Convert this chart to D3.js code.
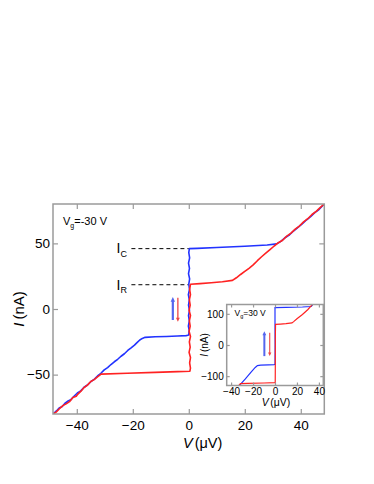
<!DOCTYPE html>
<html>
<head>
<meta charset="utf-8">
<script src="https://cdn.jsdelivr.net/npm/d3@7"></script>
<style>
  body { margin: 0; background: #fff; }
  svg { font-family: "Liberation Sans", Arial, sans-serif; }
</style>
</head>
<body>
<div class="canvas"></div>
<script>
// Data: [V (µV), I (nA)]
const blueSweep = [
  [-48.5,-80],[-47.2,-77.5],[-46.3,-75.4],[-45.2,-74.3],[-44.3,-72],[-43.1,-70.1],[-42.2,-69.2],[-41,-66.5],
  [-39.8,-64],[-38.6,-62.4],[-37.4,-59.6],[-36.2,-57.9],[-35,-55.4],[-33.8,-53.6],[-32.6,-51],[-31.4,-49],
  [-30.2,-46.4],[-29,-44.6],[-27.8,-42.3],[-26.6,-40.2],[-25.4,-38.3],[-24.2,-36],[-23,-34.1],[-21.8,-31.6],
  [-20.6,-29.6],[-19.4,-27.5],[-18.4,-25.4],[-17.5,-23.6],[-16.6,-22.4],[-15.6,-21.6],[-12,-21.2],[-8,-20.9],
  [-4,-20.6],[-1,-20.3],[-0.3,-20],[0,-19.5],[0.15,-16],[-0.15,-13],[0.2,-9],[-0.1,-5],[0.25,-1],[-0.1,3],
  [0.2,7],[-0.15,11],[0.25,15],[0,19],[0.3,23],[-0.1,27],[0.25,31],[-0.1,35],[0.3,39],[0,43],[0.2,46],
  [3,46.2],[10,46.8],[20,47.8],[28,48.8],[31.4,49.6],[33,51.7],[34.5,54.5],[36,56.6],[37.5,59.6],[39,62.2],
  [40.5,64.8],[42,67.8],[43.5,70.3],[45,73.4],[46.5,75.8],[48.4,80]
];
const redSweep = [
  [48.4,80],[46.8,77],[45.5,74.4],[44,72],[42.5,68.8],[41,66.4],[39.5,63.2],[38,60.8],[36.5,57.8],[35,55.5],
  [33.5,52.4],[32,50.5],[30.5,48],[29,45.3],[27.5,42.6],[26,39.8],[24.5,36.8],[23,33.6],[21.5,31],[20,28.6],
  [18.5,26.3],[17,23.8],[15.6,21.8],[12,20.8],[8,20],[4,19.3],[0.6,18.8],[0.3,15],[0.6,11],[0.2,7],[0.5,3],
  [0.1,-1],[0.6,-5],[0.2,-9],[0.5,-13],[0.1,-17],[0.6,-21],[0.2,-25],[0.5,-29],[0.1,-33],[0.6,-37],[0.3,-41],
  [0.6,-45],[0.4,-47.4],[-4,-47.7],[-12,-48.3],[-22,-49],[-31.3,-49.6],[-32.5,-51.5],[-33.8,-53.8],[-35,-55.2],
  [-36.2,-58],[-37.4,-59.8],[-38.6,-62.8],[-39.6,-64.8],[-40.2,-66.5],[-41.4,-67.5],[-42.6,-70.6],[-43.8,-72.3],
  [-45,-73.6],[-46.2,-76],[-47.4,-78.6],[-48.5,-80]
];
const insetBlueSweep = [
  [-33,-132],[-27,-109],[-22,-88],[-18,-72],[-16,-66],[-13,-64.5],[-6,-63.5],[-0.8,-63],[0,-62],
  [0.1,0],[0,60],[0,120],[10,121],[25,122],[33,123.5],[35,132]
];
const insetRedSweep = [
  [34.5,132],[30,114],[25,98],[20,84],[17,75],[15.5,71],[10,68.5],[5,67],[0.5,66],[0.3,20],[0.3,-60],
  [0.2,-121],[-10,-122],[-25,-123],[-31.5,-124],[-33.5,-132]
];
const xTicks = [-40, -20, 0, 20, 40];
const yTicks = [-50, 0, 50];
const insetXTicks = [-40, -20, 0, 20, 40];
const insetYTicks = [-100, 0, 100];
const levelIC = 46;
const levelIR = 18.5;

const width = 374, height = 484;
const blue = '#2233ff', red = '#ff2222', frameCol = '#9a9a9a';

const svg = d3.select('.canvas').append('svg')
    .attr('width', width)
    .attr('height', height);
svg.append('rect').attr('width', width).attr('height', height).attr('fill', '#fff');

// main plot area
const box = { left: 53, top: 204, right: 324.3, bottom: 414 };
const x = d3.scaleLinear().domain([-48.5, 48.4]).range([box.left, box.right]);
const y = d3.scaleLinear().domain([-80, 80]).range([box.bottom, box.top]);

function drawAxes(g, xs, ys, b, xt, yt, opt) {
    const tick = opt.tick;
    g.append('g').attr('transform', `translate(0,${b.bottom})`)
        .call(d3.axisBottom(xs).tickValues(xt).tickSize(-tick).tickPadding(opt.padX).tickFormat(d3.format('d')));
    g.append('g').attr('transform', `translate(0,${b.top})`)
        .call(d3.axisTop(xs).tickValues(xt).tickSize(-tick).tickFormat(''));
    g.append('g').attr('transform', `translate(${b.left},0)`)
        .call(d3.axisLeft(ys).tickValues(yt).tickSize(-tick).tickPadding(opt.padY).tickFormat(d3.format('d')));
    g.append('g').attr('transform', `translate(${b.right},0)`)
        .call(d3.axisRight(ys).tickValues(yt).tickSize(-tick).tickFormat(''));
    g.selectAll('.domain').remove();
    g.selectAll('.tick line').attr('stroke', frameCol).attr('stroke-width', 1.2);
    g.selectAll('.tick text').attr('fill', '#000').style('font-size', opt.font + 'px')
        .style('font-family', '"Liberation Sans", Arial, sans-serif');
    g.append('rect')
        .attr('x', b.left).attr('y', b.top)
        .attr('width', b.right - b.left).attr('height', b.bottom - b.top)
        .attr('fill', 'none').attr('stroke', frameCol).attr('stroke-width', 1.5);
}

const main = svg.append('g');
svg.append('clipPath').attr('id', 'clipMain').append('rect')
    .attr('x', box.left).attr('y', box.top)
    .attr('width', box.right - box.left).attr('height', box.bottom - box.top);

const line = d3.line().x(d => x(d[0])).y(d => y(d[1]));

// dashed guides for I_C and I_R
[levelIC, levelIR].forEach(v => {
    main.append('line')
        .attr('x1', x(-20.5)).attr('x2', x(0))
        .attr('y1', y(v)).attr('y2', y(v))
        .attr('stroke', '#000').attr('stroke-width', 1)
        .attr('stroke-dasharray', '4,3');
});

const curves = main.append('g').attr('clip-path', 'url(#clipMain)');
curves.append('path').attr('d', line(blueSweep))
    .attr('fill', 'none').attr('stroke', blue).attr('stroke-width', 1.6).attr('stroke-linejoin', 'round');
curves.append('path').attr('d', line(redSweep))
    .attr('fill', 'none').attr('stroke', red).attr('stroke-width', 1.6).attr('stroke-linejoin', 'round');

drawAxes(main, x, y, box, xTicks, yTicks, { tick: 5, padX: 6, padY: 3, font: 13.5 });

// sweep arrows
function arrow(g, xs, ys, xv, from, to, col, w, head) {
    const x0 = xs(xv), y0 = ys(from), y1 = ys(to);
    const dir = y1 < y0 ? -1 : 1;
    g.append('line').attr('x1', x0).attr('x2', x0)
        .attr('y1', y0).attr('y2', y1 - dir * head)
        .attr('stroke', col).attr('stroke-width', w);
    g.append('path')
        .attr('d', `M${x0},${y1}L${x0 - head * 0.55},${y1 - dir * head * 1.2}L${x0 + head * 0.55},${y1 - dir * head * 1.2}Z`)
        .attr('fill', col);
}
arrow(main, x, y, -5.7, -8.4, 9.2, '#5566ee', 2.2, 4);
arrow(main, x, y, -3.9, 8.6, -9.8, '#ee4444', 1.3, 3.5);

// labels
const vg = main.append('text').attr('x', 63).attr('y', 225).style('font-size', '11px');
vg.append('tspan').text('V');
vg.append('tspan').attr('dy', 3).style('font-size', '7px').text('g');
vg.append('tspan').attr('dy', -3).text('=-30 V');

[[levelIC, 'C', 253.3], [levelIR, 'R', 289.5]].forEach(([v, s, by]) => {
    const t = main.append('text').attr('x', 116.5).attr('y', by).style('font-size', '14px');
    t.append('tspan').text('I');
    t.append('tspan').attr('dy', 3.5).style('font-size', '9px').text(s);
});

const xl = main.append('text').attr('x', 183).attr('y', 447.5).style('font-size', '14.5px');
xl.append('tspan').style('font-style', 'italic').text('V');
xl.append('tspan').attr('dx', 2).text('(μV)');

const yl = main.append('text').attr('transform', 'translate(24,309) rotate(-90)')
    .attr('text-anchor', 'middle').style('font-size', '15px');
yl.append('tspan').style('font-style', 'italic').text('I');
yl.append('tspan').attr('dx', 3).text('(nA)');

// inset
const ib = { left: 226.7, top: 304.5, right: 323.3, bottom: 385.5 };
const ix = d3.scaleLinear().domain([-44, 44]).range([ib.left, ib.right]);
const iy = d3.scaleLinear().domain([-130, 130]).range([ib.bottom, ib.top]);
const inset = svg.append('g');
inset.append('rect')
    .attr('x', ib.left).attr('y', ib.top)
    .attr('width', ib.right - ib.left).attr('height', ib.bottom - ib.top)
    .attr('fill', '#fff');
svg.append('clipPath').attr('id', 'clipInset').append('rect')
    .attr('x', ib.left).attr('y', ib.top)
    .attr('width', ib.right - ib.left).attr('height', ib.bottom - ib.top);

const iline = d3.line().x(d => ix(d[0])).y(d => iy(d[1]));
const icurves = inset.append('g').attr('clip-path', 'url(#clipInset)');
icurves.append('path').attr('d', iline(insetBlueSweep))
    .attr('fill', 'none').attr('stroke', blue).attr('stroke-width', 1.2);
icurves.append('path').attr('d', iline(insetRedSweep))
    .attr('fill', 'none').attr('stroke', red).attr('stroke-width', 1.2);

drawAxes(inset, ix, iy, ib, insetXTicks, insetYTicks, { tick: 3, padX: 2, padY: 3, font: 10 });

arrow(inset, ix, iy, -9.7, -35.7, 44.5, '#5566ee', 2, 3.5);
arrow(inset, ix, iy, -4.8, 39, -35.7, '#ee4444', 1.1, 3);

const ivg = inset.append('text').attr('x', 234.5).attr('y', 315.5).style('font-size', '8.5px');
ivg.append('tspan').text('V');
ivg.append('tspan').attr('dy', 2.5).style('font-size', '5.5px').text('g');
ivg.append('tspan').attr('dy', -2.5).text('=30 V');

const ixl = inset.append('text').attr('x', 276).attr('y', 406)
    .attr('text-anchor', 'middle').style('font-size', '10.5px');
ixl.append('tspan').style('font-style', 'italic').text('V');
ixl.append('tspan').attr('dx', 1.5).text('(μV)');

const iyl = inset.append('text').attr('transform', 'translate(207.5,345) rotate(-90)')
    .attr('text-anchor', 'middle').style('font-size', '10px');
iyl.append('tspan').style('font-style', 'italic').text('I');
iyl.append('tspan').attr('dx', 2).text('(nA)');
</script>
</body>
</html>
